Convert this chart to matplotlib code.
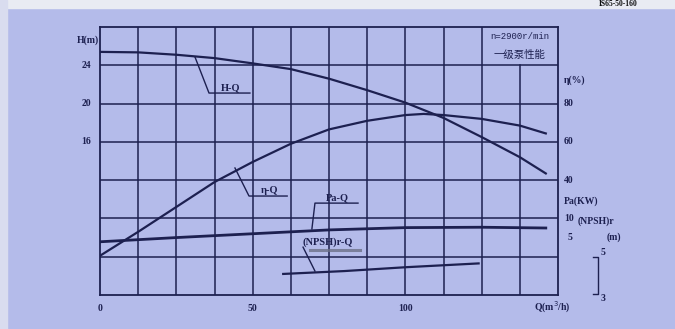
import matplotlib
matplotlib.use("Agg")
import matplotlib.pyplot as plt
from matplotlib.patches import Rectangle

plt.rcParams['font.family'] = ['Liberation Serif', 'Noto Sans CJK SC', 'DejaVu Sans']

# flow Q (m3/h) and curves
q_h = [0, 12.5, 25, 37.5, 50, 62.5, 75, 87.5, 100, 112.5, 125, 137.5, 146]
head = [25.4, 25.35, 25.1, 24.75, 24.2, 23.6, 22.6, 21.4, 20.1, 18.5, 16.5, 14.4, 12.7]

q_eta = [0, 12.5, 25, 37.5, 50, 62.5, 75, 87.5, 100, 106, 112.5, 125, 137.5, 146]
eta = [0.5, 13, 26, 39, 49.5, 59, 66.5, 71, 74, 74.6, 74, 72, 68.5, 64.4]

q_pa = [0, 25, 50, 75, 100, 125, 146]
power = [3.9, 5.0, 6.0, 7.0, 7.6, 7.7, 7.5]

q_npsh = [60, 80, 100, 124]
npsh = [4.1, 4.25, 4.45, 4.65]

x_ticks = [0, 50, 100]
h_ticks = [16, 20, 24]
eta_ticks = [40, 60, 80]

bg = '#b4bbea'
ink = '#1d2050'

fig = plt.figure(figsize=(6.75, 3.29), dpi=100, facecolor=bg)
W, H = 675, 329
# pale scan edges
fig.patches.append(Rectangle((0, 1 - 8 / H), 1, 8 / H, transform=fig.transFigure,
                             color='#e9ebf3', zorder=0))
fig.patches.append(Rectangle((0, 0), 7 / W, 1, transform=fig.transFigure,
                             color='#d9dcef', zorder=0))

rect = [100 / W, (H - 295) / H, 458 / W, 268 / H]
ax = fig.add_axes(rect, facecolor=bg)
ax.set_xlim(0, 150)
ax.set_ylim(0, 28)

def overlay(lo, hi):
    a = fig.add_axes(rect, frameon=False)
    a.set_xlim(0, 150)
    a.set_ylim(lo, hi)
    a.axis('off')
    return a

ax_eta = overlay(-20, 120)
ax_pa = overlay(-10, 60)
ax_np = overlay(3, 17)

# grid
for i in range(1, 12):
    q = 12.5 * i
    top = 24 if i == 11 else 28
    ax.plot([q, q], [0, top], color=ink, lw=1.1)
for h in range(4, 28, 4):
    ax.plot([0, 150], [h, h], color=ink, lw=1.1)
for s in ax.spines.values():
    s.set_color(ink)
    s.set_linewidth(1.3)
ax.set_xticks([])
ax.set_yticks([])

# curves
ax.plot(q_h, head, color=ink, lw=1.6)
ax_eta.plot(q_eta, eta, color=ink, lw=1.6)
ax_pa.plot(q_pa, power, color=ink, lw=2.0)
ax_np.plot(q_npsh, npsh, color=ink, lw=1.6)

fs = 7
kw = dict(fontsize=fs, color=ink, clip_on=False, weight='bold')
# left / bottom labels
for t in h_ticks:
    ax.text(-3, t, str(t), ha='right', va='center', **kw)
ax.text(-0.5, 26.6, 'H(m)', ha='right', va='center', **kw)
for t in x_ticks:
    ax.text(t, -1.4, str(t), ha='center', va='center', **kw)
ax.text(148, -1.3, 'Q(m$^3$/h)', ha='center', va='center', **kw)

# right labels
for t in eta_ticks:
    ax_eta.text(152, t, str(t), ha='left', va='center', **kw)
ax_eta.text(152, 92, 'η(%)', ha='left', va='center', **kw)
ax_pa.text(152, 14.5, 'Pa(KW)', ha='left', va='center', **kw)
ax_pa.text(152, 10, '10', ha='left', va='center', **kw)
ax_pa.text(156.5, 9.2, '(NPSH)r', ha='left', va='center', **kw)
ax_pa.text(153, 5, '5', ha='left', va='center', **kw)
ax_pa.text(166, 5, '(m)', ha='left', va='center', **kw)
ax_np.plot([161.5, 163, 163, 161.5], [5, 5, 3.05, 3.05], color=ink, lw=1.0, clip_on=False)
ax_np.text(164, 5.2, '5', ha='left', va='center', **kw)
ax_np.text(164, 2.8, '3', ha='left', va='center', **kw)

# info box
ax.text(137.5, 27.0, 'n=2900r/min', ha='center', va='center', fontsize=6.5,
        family=['Liberation Mono', 'DejaVu Sans Mono'], color=ink)
ax.text(137.5, 25.1, '一级泵性能', ha='center', va='center', fontsize=7.5,
        family=['Noto Sans CJK SC'], color=ink)

# curve tags with leaders
tag = dict(fontsize=7.5, weight='bold', color=ink, ha='center', va='bottom')
ax.plot([31.1, 35.7, 49.1], [24.87, 21.1, 21.1], color=ink, lw=1.0)
ax.text(42.9, 21.2, 'H-Q', **tag)
ax.plot([44.2, 48.8, 61.3], [13.27, 10.34, 10.34], color=ink, lw=1.0)
ax.text(55.5, 10.45, 'η-Q', **tag)
ax.plot([69.4, 70.4, 84.5], [6.9, 9.6, 9.6], color=ink, lw=1.0)
ax.text(77.6, 9.7, 'Pa-Q', **tag)
ax.plot([68.8, 85.2], [4.7, 4.7], color='#6c7088', lw=2.2, alpha=0.8)
ax.plot([66.5, 70.4], [5.0, 2.5], color=ink, lw=1.0)
ax.text(74.7, 5.0, '(NPSH)r-Q', **tag)

# heading at the top edge (mostly cut off in the scan)
fig.text(618 / W, 1 - 0.5 / H, 'IS65-50-160', ha='center', va='top', fontsize=5.5,
         weight='bold', color='#111111')

fig.savefig('out.png', dpi=100, facecolor=bg)
